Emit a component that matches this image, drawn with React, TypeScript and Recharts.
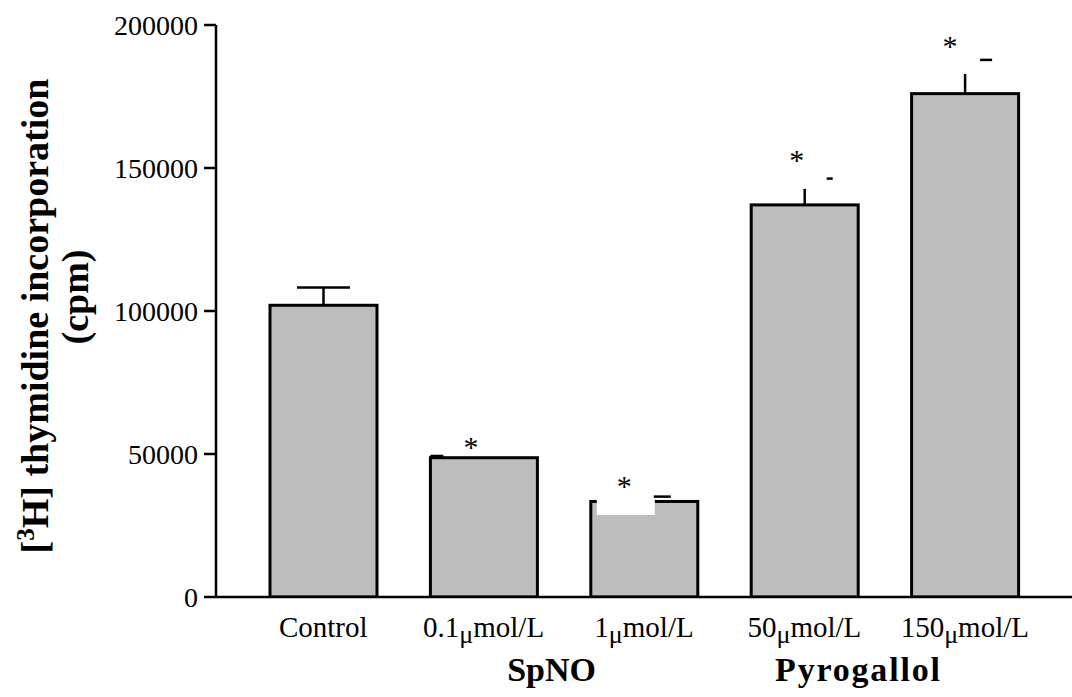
import { BarChart, Bar, XAxis, YAxis } from "recharts"

// values
const categories = ["Control", "0.1μmol/L", "1μmol/L", "50μmol/L", "150μmol/L"]
const means = [102000, 48700, 33400, 137100, 176000]
const whiskerTops = [108200, 48700, 33400, 142700, 182900]
const capValues = [108200, 49300, 35100, 146300, 187800]
const significant = [false, true, true, true, true]
const yTicks = [0, 50000, 100000, 150000, 200000]
const groupLabels = ["", "SpNO", "", "Pyrogallol", ""]

const chartData = categories.map((name, i) => ({
  name,
  mean: means[i],
  whiskerTop: whiskerTops[i],
  cap: capValues[i],
  sig: significant[i],
  group: groupLabels[i],
}))

const FONT = "'Liberation Serif', 'Times New Roman', serif"

// the scanned figure has its caps knocked sideways, keep them where they are
const CAP_SHIFT = [0, -47, 18, 25, 21]
const CAP_WIDTH = [53, 13, 17, 6, 12]
const STAR_SHIFT = [0, -13, -20, -8, -15]
const STAR_LIFT = [0, 13, 15, 23, 18]
const GROUP_SHIFT = [0, 68, 0, 54, 0]

function MeanBar(props: any) {
  const { x, y, width, height, index, payload } = props
  const pxPerUnit = height / payload.mean
  const cx = x + width / 2
  const whiskerY = y - (payload.whiskerTop - payload.mean) * pxPerUnit
  const capY = y - (payload.cap - payload.mean) * pxPerUnit
  const capX = cx + CAP_SHIFT[index]
  const capW = CAP_WIDTH[index]

  return (
    <g>
      <rect x={x} y={y} width={width} height={height} fill="#bdbdbd" stroke="#000" strokeWidth={3} />
      {index === 2 && <rect x={x + 6} y={y - 2} width={58} height={15.5} fill="#fff" />}
      {whiskerY < y && <line x1={cx} x2={cx} y1={y} y2={whiskerY} stroke="#000" strokeWidth={2.5} />}
      <line x1={capX - capW / 2} x2={capX + capW / 2} y1={capY} y2={capY} stroke="#000" strokeWidth={2.5} />
      {payload.sig && (
        <text
          x={cx + STAR_SHIFT[index]}
          y={capY - STAR_LIFT[index] + 14}
          textAnchor="middle"
          fontSize={30}
          fontFamily={FONT}
          fill="#000"
        >
          *
        </text>
      )}
    </g>
  )
}

function CategoryTick(props: any) {
  const { x, y, payload, index } = props
  const label: string = payload.value
  const [before, after] = label.includes("μ") ? label.split("μ") : [label, null]
  const group = groupLabels[index]

  return (
    <g>
      <text x={x} y={y + 40} textAnchor="middle" fontSize={29} fontFamily={FONT} fill="#000">
        <tspan>{before}</tspan>
        {after !== null && (
          <>
            <tspan dy={6} fontSize={26}>μ</tspan>
            <tspan dy={-6}>{after}</tspan>
          </>
        )}
      </text>
      {group && (
        <text
          x={x + GROUP_SHIFT[index]}
          y={y + 84}
          textAnchor="middle"
          fontSize={34}
          fontWeight="bold"
          letterSpacing={index === 3 ? 1.8 : 0}
          fontFamily={FONT}
          fill="#000"
        >
          {group}
        </text>
      )}
    </g>
  )
}

function YTitle(props: any) {
  const vb = props.viewBox || { x: 0, y: 25, width: 216, height: 572 }
  const mid = vb.y + vb.height / 2
  const c1 = mid + 5
  const c2 = mid - 14
  return (
    <g fontFamily={FONT} fontWeight="bold" fill="#000">
      <text x={48} y={c1} transform={`rotate(-90, 48, ${c1})`} textAnchor="middle" fontSize={38}>
        <tspan>[</tspan>
        <tspan dy={-14} fontSize={25}>3</tspan>
        <tspan dy={14}>H] thymidine incorporation</tspan>
      </text>
      <text x={88} y={c2} transform={`rotate(-90, 88, ${c2})`} textAnchor="middle" fontSize={38}>
        (cpm)
      </text>
    </g>
  )
}

export default function App() {
  return (
    <div style={{ position: "absolute", left: 0, top: 0, background: "#fff" }}>
      <BarChart width={1072} height={697} data={chartData} margin={{ top: 25, right: 0, bottom: 0, left: 0 }} barSize={107}>
        <XAxis
          dataKey="name"
          height={100}
          interval={0}
          padding={{ left: 27, right: 27 }}
          axisLine={{ stroke: "#000", strokeWidth: 2.5 }}
          tickLine={false}
          tickSize={0}
          tickMargin={0}
          tick={<CategoryTick />}
        />
        <YAxis
          width={216}
          domain={[0, 200000]}
          ticks={yTicks}
          interval={0}
          allowDataOverflow
          axisLine={{ stroke: "#000", strokeWidth: 2.5 }}
          tickLine={{ stroke: "#000", strokeWidth: 2.5 }}
          tickSize={12}
          tickMargin={6}
          tick={{ fontSize: 28, fill: "#000", fontFamily: FONT }}
          label={{ content: (p: any) => <YTitle {...p} /> }}
        />
        <Bar dataKey="mean" shape={(p: any) => <MeanBar {...p} />} isAnimationActive={false} />
      </BarChart>
    </div>
  )
}
